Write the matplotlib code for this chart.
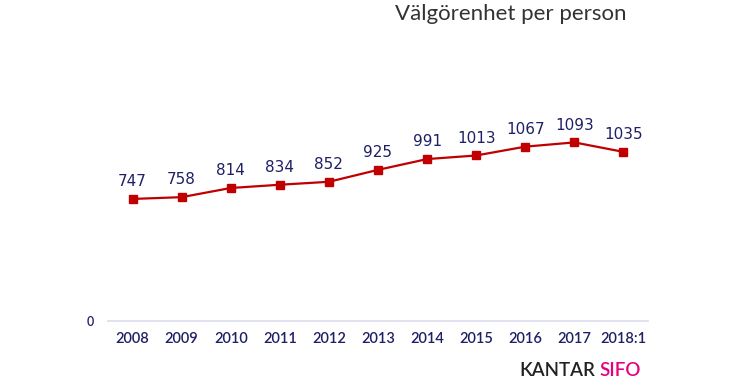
import matplotlib.pyplot as plt

# data
years = ["2008", "2009", "2010", "2011", "2012", "2013", "2014", "2015", "2016", "2017", "2018:1"]
values = [747, 758, 814, 834, 852, 925, 991, 1013, 1067, 1093, 1035]

navy = "#1f1f66"
red = "#c00000"

fig = plt.figure(figsize=(7.5, 3.84), dpi=100)
ax = fig.add_axes([0.144, 0.164, 0.72, 0.732])

x = list(range(len(years)))
ax.plot(x, values, color=red, lw=1.6, marker="s", ms=5.5, zorder=3)

for xi, v in zip(x, values):
    ax.annotate(str(v), (xi, v), xytext=(0, 7), textcoords="offset points",
                ha="center", va="bottom", fontsize=11, color=navy,
                family="DejaVu Sans")

ax.set_xlim(-0.5, len(years) - 0.5)
ax.set_ylim(0, 1720)
ax.set_xticks(x)
ax.set_xticklabels(years, family="Lato", fontsize=10.5, color=navy, weight="semibold")
ax.set_yticks([0])
ax.set_yticklabels(["0"], family="Lato", fontsize=9, color=navy, weight="semibold")
ax.tick_params(length=0, pad=8)
ax.tick_params(axis="y", pad=10)

for s in ["top", "right", "left"]:
    ax.spines[s].set_visible(False)
ax.spines["bottom"].set_color("#dcdcf0")
ax.spines["bottom"].set_linewidth(1.2)

fig.text(0.527, 0.963, "Välgörenhet per person", family="Lato", fontsize=16,
         color="#333333", ha="left", va="center")

# logo text
kantar = fig.text(0.693, 0.035, "KANTAR", family="Lato", fontsize=13.5, color="#222222",
                  ha="left", va="center", weight="semibold")
fig.canvas.draw()
ax.annotate("SIFO", xy=(1, 0.5), xycoords=kantar, xytext=(3, 0),
            textcoords="offset points", family="Lato", fontsize=13.5,
            color="#e6007e", ha="left", va="center", weight="semibold",
            annotation_clip=False)

fig.savefig("out.png", dpi=100)
